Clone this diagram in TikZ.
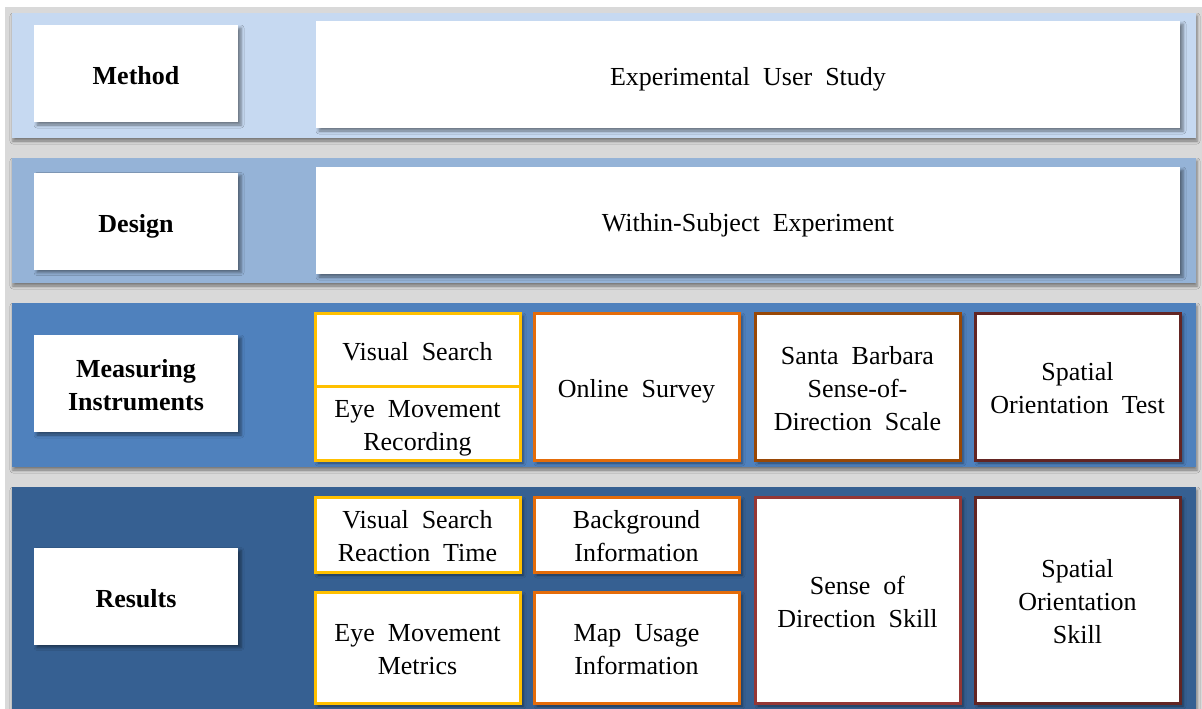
\documentclass[tikz,border=0pt]{standalone}
\usepackage{fontspec}
\setmainfont{Liberation Serif}
\usetikzlibrary{shadows.blur}
\definecolor{bggrey}{HTML}{D9D9D9}
\definecolor{bandA}{HTML}{C6D9F1}
\definecolor{bandB}{HTML}{95B3D7}
\definecolor{bandC}{HTML}{4F81BD}
\definecolor{bandD}{HTML}{366092}
\definecolor{cyellow}{HTML}{FFC000}
\definecolor{corange}{HTML}{E46C0A}
\definecolor{cbrown}{HTML}{984806}
\definecolor{cred}{HTML}{953735}
\definecolor{cdark}{HTML}{632523}
\newcommand{\firstup}{\rule{0pt}{27pt}}
\begin{document}
\begin{tikzpicture}[x=1pt,y=-1pt,
  bandshadow/.style={blur shadow={shadow xshift=1pt, shadow yshift=-3pt, shadow blur radius=3pt, shadow opacity=45}},
  txtbase/.style={inner sep=0pt, align=center, font=\fontsize{26}{33}\selectfont,
    execute at begin node={\rule{0pt}{28pt}},
    execute at end node={\rule[-5.6pt]{0pt}{0pt}}},
  card/.style={txtbase, fill=white, draw=none,
    blur shadow={shadow xshift=3pt, shadow yshift=-3pt, shadow blur radius=3pt, shadow opacity=45}},
  lbl/.style={card, font=\fontsize{26}{33}\selectfont\bfseries, minimum width=204pt, minimum height=97pt},
  wide/.style={card, minimum width=864pt, minimum height=107pt},
  framed/.style={card, line width=3pt, minimum width=205pt},
  plain/.style={txtbase, fill=white, line width=3pt, minimum width=205pt}
]
\useasboundingbox (0,0) rectangle (1202,709);
\clip (0,0) rectangle (1202,709);
\fill[bggrey] (5,7) rectangle (1202,720);

% bands
\fill[bandA, bandshadow] (12,13) rectangle (1196,138);
\fill[bandB, bandshadow] (12,158) rectangle (1196,283);
\fill[bandC, bandshadow] (12,303) rectangle (1196,467);
\fill[bandD, bandshadow] (12,487) rectangle (1196,730);

% left labels
\node[lbl] (method) at (136,73.5) {Method};
\node[lbl] (design) at (136,221) {Design};
\node[lbl] (measuring) at (136,383.5) {\firstup Measuring\\Instruments};
\node[lbl] (results) at (136,596) {Results};

% wide boxes
\node[wide] (eus) at (748,74.5) {Experimental\ \ User\ \ Study};
\node[wide] (wse) at (748,220.5) {Within-Subject\ \ Experiment};

% measuring instruments row
\node[framed, draw=cyellow, minimum height=147pt, execute at begin node={}, execute at end node={}] (vsg) at (417.5,386.5) {};
\node[plain, draw=cyellow, minimum height=73pt] (vs) at (417.5,349.5) {Visual\ \ Search};
\node[plain, draw=cyellow, minimum height=74pt] (emr) at (417.5,423) {\firstup Eye\ \ Movement\\Recording};
\node[framed, draw=corange, minimum height=147pt] (os) at (636.5,386.5) {Online\ \ Survey};
\node[framed, draw=cbrown, minimum height=147pt] (sb) at (857.5,386.5) {\firstup Santa\ \ Barbara\\Sense-of-\\Direction\ \ Scale};
\node[framed, draw=cdark, minimum height=147pt] (sot) at (1077.5,386.5) {\firstup Spatial\\Orientation\ \ Test};

% results row
\node[framed, draw=cyellow, minimum height=75pt] (vsrt) at (417.5,534.5) {\firstup Visual\ \ Search\\Reaction\ \ Time};
\node[framed, draw=cyellow, minimum height=111pt] (emm) at (417.5,647.5) {\firstup Eye\ \ Movement\\Metrics};
\node[framed, draw=corange, minimum height=75pt] (bi) at (636.5,534.5) {\firstup Background\\Information};
\node[framed, draw=corange, minimum height=111pt] (mui) at (636.5,647.5) {\firstup Map\ \ Usage\\Information};
\node[framed, draw=cred, minimum height=206pt] (sod) at (857.5,600) {\firstup Sense\ \ of\\Direction\ \ Skill};
\node[framed, draw=cdark, minimum height=206pt] (sos) at (1077.5,600) {\firstup Spatial\\Orientation\\Skill};
\end{tikzpicture}
\end{document}
